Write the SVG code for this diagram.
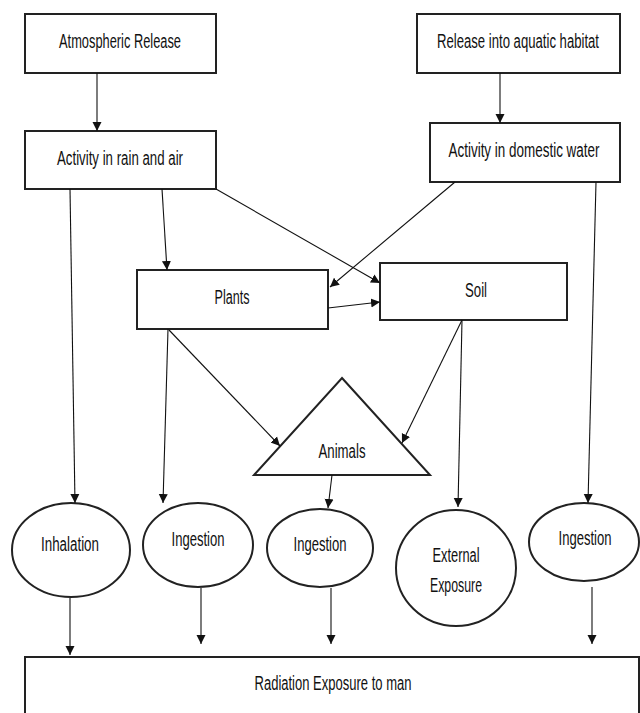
<svg xmlns="http://www.w3.org/2000/svg" width="640" height="713" viewBox="0 0 640 713">
<style>
.box{fill:#fff;stroke:#222;stroke-width:2}
.lbl{font-family:"Liberation Sans",Arial,sans-serif;font-size:19.5px;fill:#111;text-anchor:middle}
.edge{stroke:#111;stroke-width:1.1;fill:none;marker-end:url(#ah)}
</style>
<defs>
<marker id="ah" viewBox="0 0 10 10" refX="10" refY="5" markerWidth="9" markerHeight="12" markerUnits="userSpaceOnUse" orient="auto">
<path d="M0,0 L10,5 L0,10 z" fill="#111"/>
</marker>
</defs>
<rect width="640" height="713" fill="#fff"/>
<g id="atmospheric-release"><rect class="box" x="25" y="14" width="191" height="59"/><text class="lbl" x="120" y="48" textLength="122" lengthAdjust="spacingAndGlyphs">Atmospheric Release</text></g>
<g id="rain-air"><rect class="box" x="25" y="131" width="191" height="58"/><text class="lbl" x="120" y="165" textLength="126" lengthAdjust="spacingAndGlyphs">Activity in rain and air</text></g>
<g id="aquatic-release"><rect class="box" x="417" y="14" width="203" height="59"/><text class="lbl" x="518" y="48" textLength="162" lengthAdjust="spacingAndGlyphs">Release into aquatic habitat</text></g>
<g id="domestic-water"><rect class="box" x="430" y="123" width="190" height="59"/><text class="lbl" x="524" y="157" textLength="151" lengthAdjust="spacingAndGlyphs">Activity in domestic water</text></g>
<g id="plants"><rect class="box" x="137" y="270" width="191" height="59"/><text class="lbl" x="232" y="304" textLength="35" lengthAdjust="spacingAndGlyphs">Plants</text></g>
<g id="soil"><rect class="box" x="380" y="263" width="187" height="57"/><text class="lbl" x="476" y="297" textLength="22" lengthAdjust="spacingAndGlyphs">Soil</text></g>
<g id="animals"><polygon class="box" points="342,378 430,475 254,475"/><text class="lbl" x="342" y="458" textLength="47" lengthAdjust="spacingAndGlyphs">Animals</text></g>
<g id="inhalation"><ellipse class="box" cx="71" cy="550" rx="59" ry="47"/><text class="lbl" x="70" y="551" textLength="58" lengthAdjust="spacingAndGlyphs">Inhalation</text></g>
<g id="ingestion-1"><ellipse class="box" cx="198" cy="545" rx="55" ry="42"/><text class="lbl" x="198" y="546" textLength="53" lengthAdjust="spacingAndGlyphs">Ingestion</text></g>
<g id="ingestion-2"><ellipse class="box" cx="320" cy="548" rx="53" ry="39"/><text class="lbl" x="320" y="551" textLength="53" lengthAdjust="spacingAndGlyphs">Ingestion</text></g>
<g id="external-exposure"><ellipse class="box" cx="456" cy="568" rx="60" ry="58"/><text class="lbl" x="456" y="562" textLength="47" lengthAdjust="spacingAndGlyphs">External</text><text class="lbl" x="456" y="592" textLength="52" lengthAdjust="spacingAndGlyphs">Exposure</text></g>
<g id="ingestion-3"><ellipse class="box" cx="584" cy="542" rx="55" ry="39"/><text class="lbl" x="585" y="545" textLength="53" lengthAdjust="spacingAndGlyphs">Ingestion</text></g>
<g id="radiation-exposure"><rect class="box" x="25" y="657" width="614" height="70"/><text class="lbl" x="333" y="690" textLength="157" lengthAdjust="spacingAndGlyphs">Radiation Exposure to man</text></g>
<g id="connectors">
<line class="edge" x1="97" y1="73" x2="97" y2="131"/>
<line class="edge" x1="500" y1="73" x2="500" y2="123"/>
<line class="edge" x1="162" y1="189" x2="167" y2="270"/>
<line class="edge" x1="216" y1="189" x2="380" y2="283"/>
<line class="edge" x1="455" y1="182" x2="330" y2="287"/>
<line class="edge" x1="328" y1="308" x2="380" y2="302"/>
<line class="edge" x1="70" y1="189" x2="75" y2="503"/>
<line class="edge" x1="168" y1="329" x2="163" y2="503"/>
<line class="edge" x1="169" y1="330" x2="280" y2="446"/>
<line class="edge" x1="462" y1="320" x2="402" y2="443"/>
<line class="edge" x1="462" y1="320" x2="458" y2="507"/>
<line class="edge" x1="596" y1="182" x2="588" y2="503"/>
<line class="edge" x1="332" y1="475" x2="328" y2="508"/>
<line class="edge" x1="70" y1="598" x2="70" y2="655"/>
<line class="edge" x1="201" y1="588" x2="201" y2="644"/>
<line class="edge" x1="331" y1="588" x2="331" y2="644"/>
<line class="edge" x1="592" y1="587" x2="592" y2="644"/>
</g>
</svg>
